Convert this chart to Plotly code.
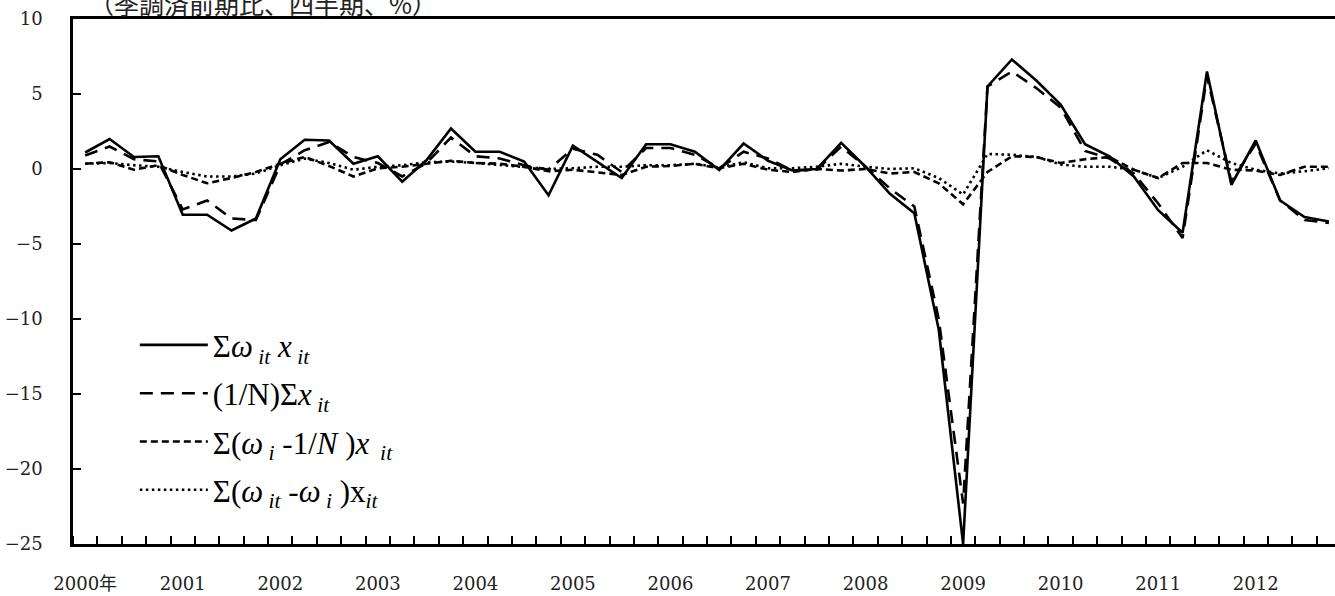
import plotly.graph_objects as go

# quarterly periods 2000Q1 .. 2012Q4
years = list(range(2000, 2013))
year_labels = ["2000年"] + [str(y) for y in years[1:]]
n_quarters = 52

s_total = [1.1, 2.0, 0.8, 0.85, -3.05, -3.05, -4.1, -3.3,
           0.65, 1.95, 1.9, 0.35, 0.85, -0.85, 0.6, 2.7,
           1.15, 1.15, 0.5, -1.75, 1.55, 0.5, -0.6, 1.65,
           1.65, 1.15, -0.07, 1.7, 0.55, -0.1, 0.0, 1.75,
           0.15, -1.65, -2.95, -10.7, -25.0, 5.5, 7.3, 5.9,
           4.3, 1.65, 0.85, -0.5, -2.75, -4.25, 6.5, -1.05,
           1.9, -2.1, -3.2, -3.5]
s_mean = [0.9, 1.5, 0.65, 0.5, -2.7, -2.1, -3.3, -3.4,
          0.3, 1.25, 1.8, 0.8, 0.4, -0.5, 0.4, 2.1,
          0.85, 0.7, 0.25, -0.05, 1.35, 0.95, -0.2, 1.4,
          1.4, 0.95, 0.05, 1.15, 0.7, -0.1, -0.05, 1.5,
          0.15, -1.3, -2.5, -10.0, -22.3, 5.5, 6.5, 5.4,
          4.1, 1.2, 0.7, -0.3, -2.3, -4.6, 6.2, -0.85,
          1.7, -2.1, -3.4, -3.6]
s_weight = [0.35, 0.45, -0.05, 0.25, -0.4, -0.95, -0.6, -0.2,
            0.35, 0.8, 0.2, -0.5, 0.05, 0.15, 0.35, 0.55,
            0.4, 0.35, 0.15, -0.15, -0.05, -0.2, -0.4, 0.15,
            0.2, 0.35, 0.05, 0.35, -0.05, -0.2, 0.0, -0.1,
            0.0, -0.3, -0.2, -0.95, -2.35, -0.2, 0.85, 0.8,
            0.4, 0.65, 0.8, -0.05, -0.6, 0.4, 0.4, -0.05,
            -0.1, -0.4, 0.15, 0.15]
s_shift = [0.35, 0.4, 0.25, 0.15, -0.2, -0.5, -0.5, -0.3,
           0.25, 0.7, 0.4, -0.05, 0.15, 0.25, 0.45, 0.5,
           0.4, 0.25, 0.15, 0.0, 0.05, 0.15, 0.15, 0.25,
           0.25, 0.35, 0.1, 0.45, 0.05, 0.05, 0.15, 0.35,
           0.15, 0.0, 0.05, -0.6, -1.7, 1.0, 0.95, 0.8,
           0.3, 0.15, 0.15, -0.05, -0.6, 0.15, 1.25, 0.4,
           -0.05, -0.3, -0.15, 0.05]

sp = "\u00a0"
names = [
    f"Σ<i>ω</i><sub>{sp}<i>it</i></sub>{sp}<i>x</i><sub>{sp}<i>it</i></sub>",
    f"(1/N)Σ<i>x</i><sub>{sp}<i>it</i></sub>",
    f"Σ(<i>ω</i><sub>{sp}<i>i</i></sub>{sp}-1/<i>N</i>{sp})<i>x</i><sub>{sp}{sp}<i>it</i></sub>",
    f"Σ(<i>ω</i><sub>{sp}<i>it</i></sub>{sp}-<i>ω</i><sub>{sp}<i>i</i></sub>{sp})x<sub><i>it</i></sub>",
]
series = [s_total, s_mean, s_weight, s_shift]
dashes = ["solid", "13px,8px", "7px,4px", "2.5px,3.5px"]
widths = [2.6, 2.6, 2.6, 2.6]

x = list(range(n_quarters))

fig = go.Figure()
for k, (nm, ys, ds, w) in enumerate(zip(names, series, dashes, widths)):
    fig.add_trace(go.Scatter(
        x=x, y=ys, mode="lines", name=nm, legendgroup=f"g{k}",
        line=dict(color="black", width=w, dash=ds),
    ))

fig.update_layout(
    width=1335, height=596,
    margin=dict(l=73, r=0, t=19, b=52, autoexpand=False),
    paper_bgcolor="white", plot_bgcolor="white",
    font=dict(family="DejaVu Serif, Noto Sans CJK JP", size=18, color="#222"),
    showlegend=True,
    legend=dict(
        x=0.049, y=0.43, xanchor="left", yanchor="top",
        bgcolor="rgba(0,0,0,0)", borderwidth=0,
        font=dict(family="Liberation Serif", size=31, color="black"),
        itemwidth=68, tracegroupgap=5,
    ),
)

fig.update_xaxes(
    range=[-0.5, 51.25], automargin=False,
    tickvals=[4 * i for i in range(len(years))], ticktext=year_labels,
    ticks="", showgrid=False, zeroline=False,
    showline=True, linecolor="black", linewidth=2.5, mirror=True,
    ticklabelstandoff=22,
    minor=dict(tickmode="linear", tick0=-0.5, dtick=1, ticks="inside",
               ticklen=8, tickwidth=2, tickcolor="black", showgrid=False),
)
fig.update_yaxes(
    range=[-25, 10], tickvals=[-25, -20, -15, -10, -5, 0, 5, 10],
    automargin=False,
    ticks="inside", ticklen=8, tickwidth=2, tickcolor="black",
    showgrid=False, zeroline=False,
    showline=True, linecolor="black", linewidth=2.5,
    ticklabelstandoff=24,
)

fig.add_annotation(
    text="（季調済前期比、四半期、%）", xref="paper", yref="paper",
    x=0.1506, y=1.0305, xanchor="center", yanchor="middle", showarrow=False,
    font=dict(family="Noto Sans CJK JP", size=25, color="#222"),
)

fig.write_html("out.html")
